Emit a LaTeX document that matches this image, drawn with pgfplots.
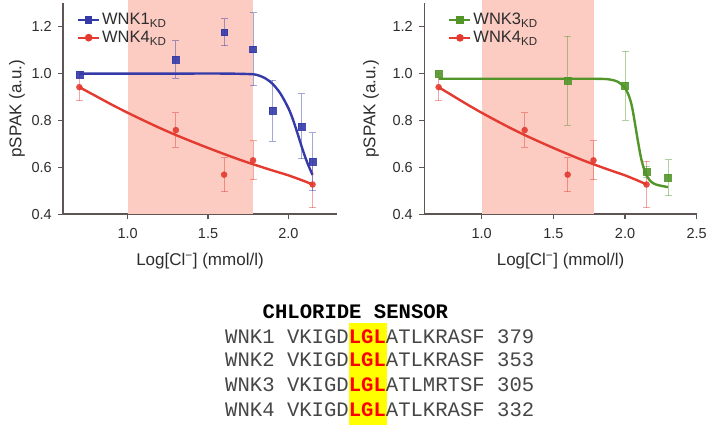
\documentclass[border=0pt]{standalone}
\usepackage{pgfplots}
\usepackage{pgfplotstable}
\pgfplotsset{compat=1.18}
\usepackage{fontspec}
\setmainfont{Liberation Sans}
\newfontfamily\mono{Liberation Mono}
\definecolor{wblue}{RGB}{52,58,168}
\definecolor{wred}{RGB}{228,58,48}
\definecolor{wgreen}{RGB}{82,150,42}
\definecolor{shade}{RGB}{252,204,194}
\definecolor{axgray}{RGB}{95,85,85}
\definecolor{txt}{RGB}{45,45,45}
\definecolor{seqgray}{RGB}{70,70,70}
\definecolor{hl}{RGB}{255,255,0}
\definecolor{lgl}{RGB}{255,0,0}

\pgfplotstableread{
x y e
0.70 0.996 0.012
1.30 1.059 0.080
1.60 1.176 0.058
1.78 1.104 0.156
1.90 0.841 0.130
2.08 0.775 0.139
2.15 0.624 0.124
}\wnkone
\pgfplotstableread{
x y e
0.70 0.942 0.058
1.30 0.759 0.073
1.60 0.569 0.072
1.78 0.630 0.083
2.15 0.527 0.100
}\wnkfour
\pgfplotstableread{
x y e
0.70 0.998 0.015
1.60 0.970 0.190
2.00 0.949 0.147
2.15 0.580 0.025
2.30 0.556 0.077
}\wnkthree

\pgfplotsset{
  chart/.style={
    anchor=south west, scale only axis, height=211.1bp,
    ymin=0.4, ymax=1.3,
    axis x line*=bottom, axis y line*=left,
    axis line style={draw=axgray, line width=1.6bp, -},
    tick align=outside, major tick length=5bp,
    major tick style={draw=axgray, line width=1.3bp},
    ytick={0.4,0.6,0.8,1.0,1.2},
    tick label style={font=\fontsize{14.5bp}{17bp}\selectfont, text=txt},
    xticklabel style={yshift=-6bp},
    yticklabel style={xshift=-3bp},
    /pgf/number format/fixed, /pgf/number format/fixed zerofill,
    /pgf/number format/precision=1, /pgf/number format/assume math mode=true,
    xlabel={Log[Cl\textsuperscript{−}] (mmol/l)},
    ylabel={pSPAK (a.u.)},
    label style={font=\fontsize{17bp}{20bp}\selectfont, text=txt},
    xlabel style={at={(axis description cs:0.5,-0.242)}, anchor=base},
    legend style={anchor=north west, draw=none, fill=none,
      font=\fontsize{16.5bp}{19bp}\selectfont, text=txt, inner sep=0pt,
      row sep=1bp, cells={anchor=west}},
    legend image code/.code={\draw[mark repeat=2, mark phase=2, #1] plot coordinates {(0bp,0bp) (10.5bp,0bp) (21bp,0bp)};},
    clip=false,
  },
  dat/.style={only marks, mark=#1, forget plot, mark options={opacity=0.9},
    error bars/y dir=both, error bars/y explicit,
    error bars/error bar style={line width=1bp, opacity=0.45},
    error bars/error mark options={rotate=90, mark size=3.5bp, line width=1bp, opacity=0.45}},
  fit/.style={line width=2.4bp, smooth, forget plot},
}

\begin{document}
\begin{tikzpicture}
\useasboundingbox (0bp,0bp) rectangle (708bp,425bp);

% ---------- left panel ----------
\begin{axis}[chart, at={(63.3bp,210.7bp)}, width=273.4bp,
  xmin=0.6, xmax=2.3, xtick={1,1.5,2},
  ylabel style={at={(axis description cs:-0.169,0.5)}, anchor=center},
  legend style={at={(axis description cs:0.05,0.962)}}]
\addplot[draw=none, fill=shade, forget plot] coordinates {(1,0.4) (1,1.313) (1.778,1.313) (1.778,0.4)} -- cycle;
\addplot[fit, wred] coordinates {(0.7,0.942) (0.8,0.905) (0.9,0.868) (1.0,0.833) (1.1,0.800) (1.2,0.768) (1.3,0.738) (1.4,0.710) (1.5,0.683) (1.6,0.657) (1.7,0.632) (1.8,0.609) (1.9,0.587) (2.0,0.566) (2.1,0.541) (2.15,0.527)};
\addplot[fit, wblue] coordinates {(0.7,1.0) (1.0,1.0) (1.3,1.0) (1.6,1.0) (1.75,0.998) (1.8,0.995) (1.85,0.982) (1.9,0.957) (1.95,0.915) (2.0,0.852) (2.03,0.80) (2.06,0.737) (2.09,0.672) (2.12,0.615) (2.15,0.568)};
\addplot[dat=*, wred, mark size=3bp] table[x=x, y=y, y error=e] {\wnkfour};
\addplot[dat=square*, wblue, mark size=3.4bp] table[x=x, y=y, y error=e] {\wnkone};
\addlegendimage{wblue, line width=2bp, mark=square*, mark size=2.8bp}
\addlegendentry{WNK1\textsubscript{KD}}
\addlegendimage{wred, line width=2bp, mark=*, mark size=2.8bp}
\addlegendentry{WNK4\textsubscript{KD}}
\end{axis}

% ---------- right panel ----------
\begin{axis}[chart, at={(424.3bp,210.7bp)}, width=272.4bp,
  xmin=0.6, xmax=2.5, xtick={1,1.5,2,2.5},
  ylabel style={at={(axis description cs:-0.196,0.5)}, anchor=center},
  legend style={at={(axis description cs:0.088,0.962)}}]
\addplot[draw=none, fill=shade, forget plot] coordinates {(1,0.4) (1,1.313) (1.784,1.313) (1.784,0.4)} -- cycle;
\addplot[fit, wred] coordinates {(0.7,0.942) (0.8,0.905) (0.9,0.868) (1.0,0.833) (1.1,0.800) (1.2,0.768) (1.3,0.738) (1.4,0.710) (1.5,0.683) (1.6,0.657) (1.7,0.632) (1.8,0.609) (1.9,0.587) (2.0,0.566) (2.1,0.541) (2.15,0.527)};
\addplot[fit, wgreen] coordinates {(0.7,0.978) (1.2,0.978) (1.7,0.978) (1.85,0.977) (1.9,0.974) (1.95,0.965) (2.0,0.938) (2.03,0.90) (2.05,0.855) (2.07,0.785) (2.09,0.712) (2.11,0.645) (2.13,0.598) (2.15,0.565) (2.18,0.540) (2.22,0.526) (2.3,0.516)};
\addplot[dat=*, wred, mark size=3bp] table[x=x, y=y, y error=e] {\wnkfour};
\addplot[dat=square*, wgreen, mark size=3.4bp] table[x=x, y=y, y error=e] {\wnkthree};
\addlegendimage{wgreen, line width=2bp, mark=square*, mark size=2.8bp}
\addlegendentry{WNK3\textsubscript{KD}}
\addlegendimage{wred, line width=2bp, mark=*, mark size=2.8bp}
\addlegendentry{WNK4\textsubscript{KD}}
\end{axis}

% ---------- chloride sensor alignment ----------
\fill[hl] (349bp,0bp) rectangle (387bp,102bp);
\begin{scope}[every node/.style={anchor=base west, inner sep=0pt, font=\mono\fontsize{20.6bp}{24bp}\selectfont}]
\node[text=black] at (262.5bp,106bp) {\bfseries CHLORIDE SENSOR};
\node[text=seqgray] at (225bp,81.7bp) {WNK1 VKIGD\textcolor{lgl}{\bfseries LGL}ATLKRASF 379};
\node[text=seqgray] at (225bp,58.3bp) {WNK2 VKIGD\textcolor{lgl}{\bfseries LGL}ATLKRASF 353};
\node[text=seqgray] at (225bp,34bp) {WNK3 VKIGD\textcolor{lgl}{\bfseries LGL}ATLMRTSF 305};
\node[text=seqgray] at (225bp,9bp) {WNK4 VKIGD\textcolor{lgl}{\bfseries LGL}ATLKRASF 332};
\end{scope}
\end{tikzpicture}
\end{document}
